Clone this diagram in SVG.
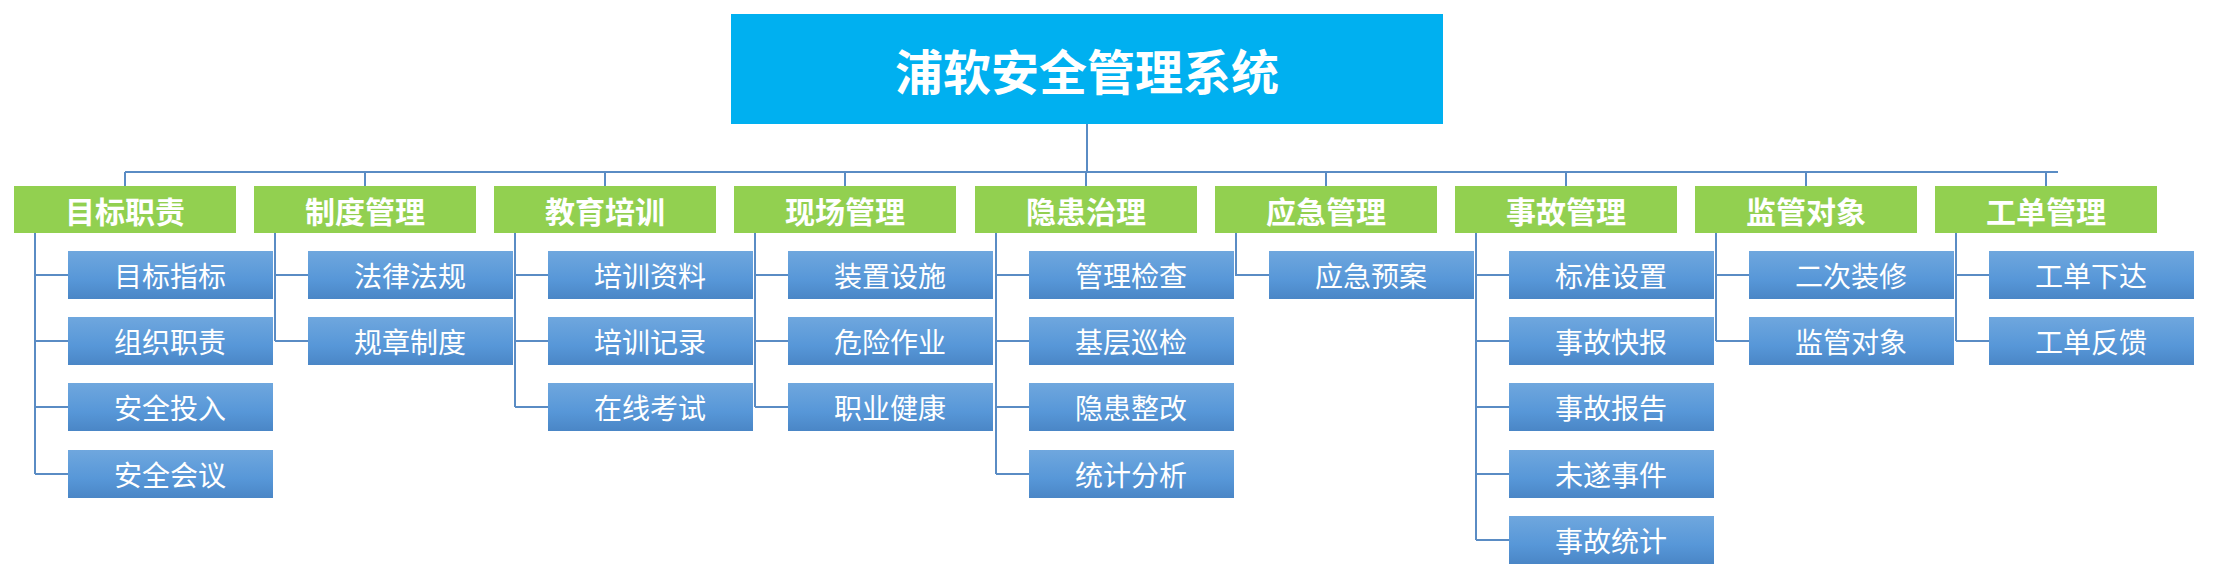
<svg xmlns="http://www.w3.org/2000/svg" width="2214" height="579" viewBox="0 0 2214 579">
<style>
.cat{fill:#92d050}
.ch{fill:url(#g)}
.t{font-family:"Noto Sans CJK SC",sans-serif;fill:#fff;text-anchor:middle;dominant-baseline:central}
.ct{font-size:30px;font-weight:bold}
.cht{font-size:28px}
.ln{stroke:#5a8cc4;stroke-width:2;fill:none}
</style>
<defs><linearGradient id="g" x1="0" y1="0" x2="0" y2="1"><stop offset="0" stop-color="#6fa7de"/><stop offset="0.6" stop-color="#5797d8"/><stop offset="1" stop-color="#4a86c6"/></linearGradient></defs>
<rect width="2214" height="579" fill="#fff"/>
<g id="connectors" class="ln">
<path d="M1087 124V172M125 172H2058M125 172V186M365 172V186M605 172V186M845 172V186M1086 172V186M1326 172V186M1566 172V186M1806 172V186M2046 172V186"/>
<path d="M35 233V474M35 275H68M35 341H68M35 407H68M35 474H68"/>
<path d="M275 233V341M275 275H308M275 341H308"/>
<path d="M515 233V407M515 275H548M515 341H548M515 407H548"/>
<path d="M755 233V407M755 275H788M755 341H788M755 407H788"/>
<path d="M996 233V474M996 275H1029M996 341H1029M996 407H1029M996 474H1029"/>
<path d="M1236 233V275H1269"/>
<path d="M1476 233V540M1476 275H1509M1476 341H1509M1476 407H1509M1476 474H1509M1476 540H1509"/>
<path d="M1716 233V341M1716 275H1749M1716 341H1749"/>
<path d="M1956 233V341M1956 275H1989M1956 341H1989"/>
</g>
<g id="title"><rect x="731" y="14" width="712" height="110" fill="#00b0f0"/><text class="t" x="1087" y="69" font-size="48" font-weight="bold">浦软安全管理系统</text></g>
<g id="c0"><rect class="cat" x="14" y="186" width="222" height="47"/><text class="t ct" x="125" y="210">目标职责</text>
<rect class="ch" x="68" y="251" width="205" height="48"/><text class="t cht" x="170" y="275">目标指标</text>
<rect class="ch" x="68" y="317" width="205" height="48"/><text class="t cht" x="170" y="341">组织职责</text>
<rect class="ch" x="68" y="383" width="205" height="48"/><text class="t cht" x="170" y="407">安全投入</text>
<rect class="ch" x="68" y="450" width="205" height="48"/><text class="t cht" x="170" y="474">安全会议</text></g>
<g id="c1"><rect class="cat" x="254" y="186" width="222" height="47"/><text class="t ct" x="365" y="210">制度管理</text>
<rect class="ch" x="308" y="251" width="205" height="48"/><text class="t cht" x="410" y="275">法律法规</text>
<rect class="ch" x="308" y="317" width="205" height="48"/><text class="t cht" x="410" y="341">规章制度</text></g>
<g id="c2"><rect class="cat" x="494" y="186" width="222" height="47"/><text class="t ct" x="605" y="210">教育培训</text>
<rect class="ch" x="548" y="251" width="205" height="48"/><text class="t cht" x="650" y="275">培训资料</text>
<rect class="ch" x="548" y="317" width="205" height="48"/><text class="t cht" x="650" y="341">培训记录</text>
<rect class="ch" x="548" y="383" width="205" height="48"/><text class="t cht" x="650" y="407">在线考试</text></g>
<g id="c3"><rect class="cat" x="734" y="186" width="222" height="47"/><text class="t ct" x="845" y="210">现场管理</text>
<rect class="ch" x="788" y="251" width="205" height="48"/><text class="t cht" x="890" y="275">装置设施</text>
<rect class="ch" x="788" y="317" width="205" height="48"/><text class="t cht" x="890" y="341">危险作业</text>
<rect class="ch" x="788" y="383" width="205" height="48"/><text class="t cht" x="890" y="407">职业健康</text></g>
<g id="c4"><rect class="cat" x="975" y="186" width="222" height="47"/><text class="t ct" x="1086" y="210">隐患治理</text>
<rect class="ch" x="1029" y="251" width="205" height="48"/><text class="t cht" x="1131" y="275">管理检查</text>
<rect class="ch" x="1029" y="317" width="205" height="48"/><text class="t cht" x="1131" y="341">基层巡检</text>
<rect class="ch" x="1029" y="383" width="205" height="48"/><text class="t cht" x="1131" y="407">隐患整改</text>
<rect class="ch" x="1029" y="450" width="205" height="48"/><text class="t cht" x="1131" y="474">统计分析</text></g>
<g id="c5"><rect class="cat" x="1215" y="186" width="222" height="47"/><text class="t ct" x="1326" y="210">应急管理</text>
<rect class="ch" x="1269" y="251" width="205" height="48"/><text class="t cht" x="1371" y="275">应急预案</text></g>
<g id="c6"><rect class="cat" x="1455" y="186" width="222" height="47"/><text class="t ct" x="1566" y="210">事故管理</text>
<rect class="ch" x="1509" y="251" width="205" height="48"/><text class="t cht" x="1611" y="275">标准设置</text>
<rect class="ch" x="1509" y="317" width="205" height="48"/><text class="t cht" x="1611" y="341">事故快报</text>
<rect class="ch" x="1509" y="383" width="205" height="48"/><text class="t cht" x="1611" y="407">事故报告</text>
<rect class="ch" x="1509" y="450" width="205" height="48"/><text class="t cht" x="1611" y="474">未遂事件</text>
<rect class="ch" x="1509" y="516" width="205" height="48"/><text class="t cht" x="1611" y="540">事故统计</text></g>
<g id="c7"><rect class="cat" x="1695" y="186" width="222" height="47"/><text class="t ct" x="1806" y="210">监管对象</text>
<rect class="ch" x="1749" y="251" width="205" height="48"/><text class="t cht" x="1851" y="275">二次装修</text>
<rect class="ch" x="1749" y="317" width="205" height="48"/><text class="t cht" x="1851" y="341">监管对象</text></g>
<g id="c8"><rect class="cat" x="1935" y="186" width="222" height="47"/><text class="t ct" x="2046" y="210">工单管理</text>
<rect class="ch" x="1989" y="251" width="205" height="48"/><text class="t cht" x="2091" y="275">工单下达</text>
<rect class="ch" x="1989" y="317" width="205" height="48"/><text class="t cht" x="2091" y="341">工单反馈</text></g>
</svg>
